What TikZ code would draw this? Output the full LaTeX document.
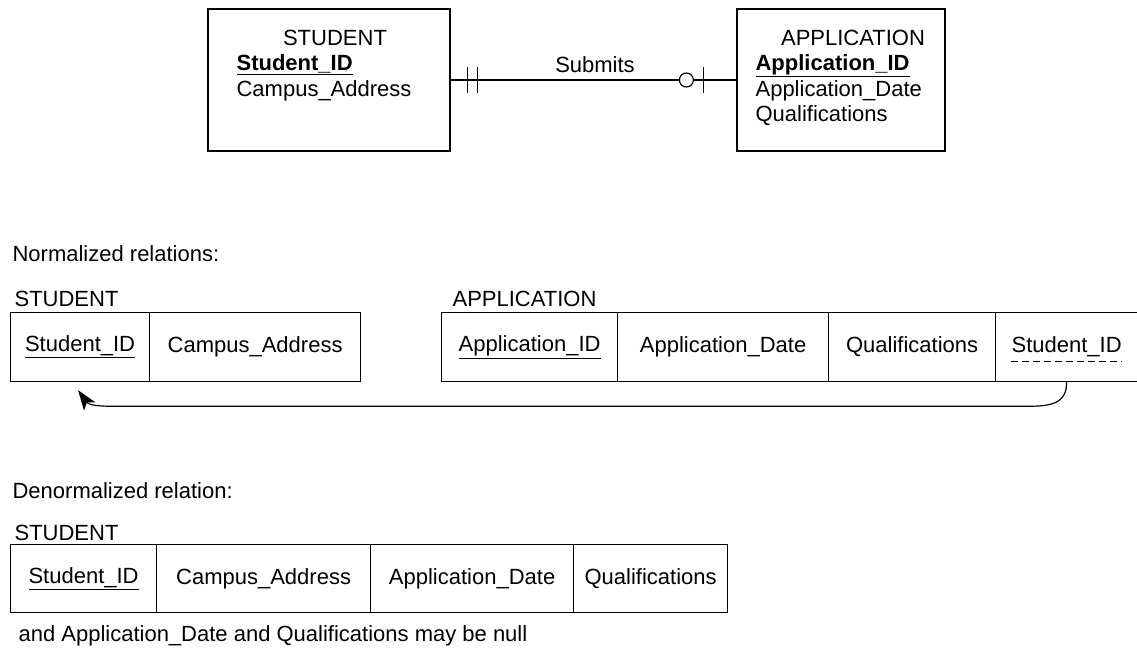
\documentclass[tikz,border=0pt]{standalone}
\usepackage{fontspec}
\setmainfont{Liberation Sans}
\usetikzlibrary{arrows.meta}
\begin{document}
\begin{tikzpicture}[x=1pt,y=-1pt,
  font=\fontsize{22}{25}\selectfont,
  line width=1.2pt,
  cell/.style={draw, minimum height=69pt, inner sep=0pt, anchor=north west},
  ent/.style={draw, minimum height=142pt, inner sep=0pt},
  lbl/.style={anchor=base west, inner sep=0pt},
  ttl/.style={anchor=base, inner sep=0pt},
  txt/.style={inner sep=0pt},
  tick/.style={line width=1.2pt},
  fkarrow/.style={-{Stealth[length=20pt,width=14pt,inset=5pt]}},
]
\useasboundingbox (0,0) rectangle (1137,648);

% ---------- E-R diagram ----------
\node[ent, minimum width=242pt] (stu) at (329,80) {};
\node[ent, minimum width=208pt] (app) at (841,80) {};

\node[ttl] (stuT) at (335,45) {STUDENT};
\node[lbl] (stuA1) at (236,70) {\textbf{\underline{Student\_ID}}};
\node[lbl] (stuA2) at (236,96) {Campus\_Address};

\node[ttl] (appT) at (853,45) {APPLICATION};
\node[lbl] (appA1) at (755,70) {\textbf{\underline{Application\_ID}}};
\node[lbl] (appA2) at (755,96) {Application\_Date};
\node[lbl] (appA3) at (755,121) {Qualifications};

\draw (stu.east) -- (app.west);
\node[ttl] (rel) at (595,72) {Submits};
\draw[tick] ([xshift=17pt,yshift=13pt]stu.east) -- ([xshift=17pt,yshift=-13pt]stu.east);
\draw[tick] ([xshift=27pt,yshift=13pt]stu.east) -- ([xshift=27pt,yshift=-13pt]stu.east);
\draw[tick, fill=white] ([xshift=-50pt]app.west) circle[radius=7pt];
\draw[tick] ([xshift=-33pt,yshift=13pt]app.west) -- ([xshift=-33pt,yshift=-13pt]app.west);

% ---------- Normalized relations ----------
\node[lbl] (normH) at (12,261) {Normalized relations:};
\node[lbl] (nsL) at (14,306) {STUDENT};
\node[lbl] (naL) at (452,306) {APPLICATION};

\node[cell, minimum width=139pt] (ns1) at (10,312) {\underline{Student\_ID}};
\node[cell, minimum width=211pt] (ns2) at (149,312) {Campus\_Address};

\node[cell, minimum width=176pt] (na1) at (441,312) {\underline{Application\_ID}};
\node[cell, minimum width=211pt] (na2) at (617,312) {Application\_Date};
\node[cell, minimum width=167pt] (na3) at (828,312) {Qualifications};
\node[cell, minimum width=150pt] (na4) at (995,312) {};
\node[txt] (fk) at ([xshift=-4pt]na4.center) {Student\_ID};
\draw[dash pattern=on 7pt off 4pt, line width=1.1pt] ([yshift=-4pt]fk.south west) -- ([yshift=-4pt]fk.south east);

\draw[fkarrow]
  ([xshift=-4pt]na4.south) .. controls ([xshift=-4pt,yshift=-18pt]na4.south) and ([xshift=-14pt,yshift=-24pt]na4.south) .. ([xshift=-40pt,yshift=-24pt]na4.south)
  -- ([xshift=30pt,yshift=-24pt]ns1.south)
  .. controls ([xshift=14pt,yshift=-24pt]ns1.south) and ([xshift=8pt,yshift=-22pt]ns1.south) .. ([xshift=-2pt,yshift=-8pt]ns1.south);

% ---------- Denormalized relation ----------
\node[lbl] (denH) at (12,498) {Denormalized relation:};
\node[lbl] (dsL) at (14,540) {STUDENT};

\node[cell, minimum width=146pt, minimum height=68pt] (d1) at (10,544) {\underline{Student\_ID}};
\node[cell, minimum width=214pt, minimum height=68pt] (d2) at (156,544) {Campus\_Address};
\node[cell, minimum width=203pt, minimum height=68pt] (d3) at (370,544) {Application\_Date};
\node[cell, minimum width=154pt, minimum height=68pt] (d4) at (573,544) {Qualifications};

\node[lbl] (note) at (18,641) {and Application\_Date and Qualifications may be null};
\end{tikzpicture}
\end{document}
